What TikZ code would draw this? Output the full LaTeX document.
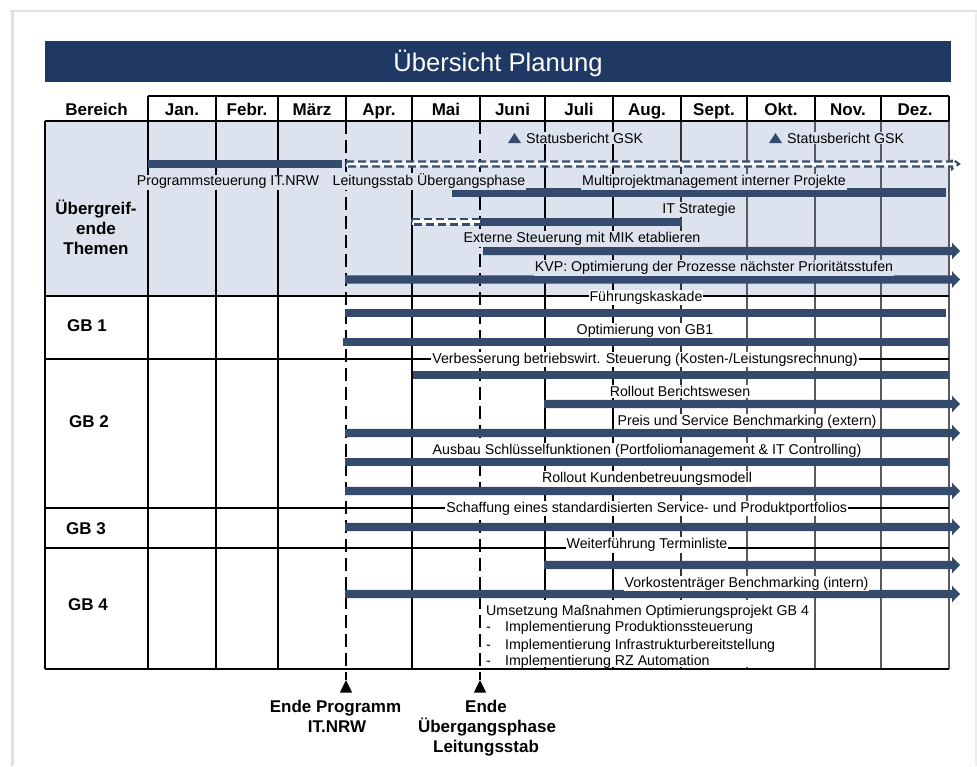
\documentclass[tikz,border=0pt]{standalone}
\usepackage{fontspec}
\setmainfont{Liberation Sans}
\definecolor{titleblue}{HTML}{1F3864}
\definecolor{barblue}{HTML}{344B6E}
\definecolor{bgblue}{HTML}{DDE3EE}
\definecolor{framegray}{HTML}{E1E1E1}
\definecolor{framelight}{HTML}{EEEEEE}
\definecolor{gridgray}{HTML}{5A5A5A}
\definecolor{griddark}{HTML}{333333}
% solid bar: start x, end x, centre y
\newcommand\solidbar[3]{\fill[barblue] (#1,{#3-4.2}) rectangle (#2,{#3+4.2});}
% bar that runs on past December: start x, centre y
\newcommand\arrowbar[2]{\fill[barblue] (#1,{#2-4.2}) -- (952,{#2-4.2}) -- (952,{#2-8.3}) -- (960,#2) -- (952,{#2+8.3}) -- (952,{#2+4.2}) -- (#1,{#2+4.2}) -- cycle;}
\begin{document}
\begin{tikzpicture}[x=1pt,y=-1pt,
  body/.style={font=\fontsize{14.2}{17}\selectfont, inner sep=1pt, anchor=base},
  onwhite/.style={body, fill=white},
  onblue/.style={body, fill=bgblue},
  headtxt/.style={font=\bfseries\fontsize{17}{20}\selectfont, inner sep=0pt, anchor=base},
  grid/.style={line width=1.3pt, draw=black},
  milestone/.style={line width=2.2pt, draw=black, dash pattern=on 13pt off 6pt},
  planned/.style={draw=barblue, fill=white, line width=2.1pt, dash pattern=on 8pt off 4pt}]
\useasboundingbox (0,0) rectangle (977,766);
\fill[white] (0,0) rectangle (977,766);

% page frame
\draw[framegray, line width=2.5pt] (10,11) -- (977,11);
\draw[framegray, line width=3pt] (12,11) -- (12,766);
\draw[framelight, line width=1.5pt] (976,12) -- (976,766);

% title bar
\node[fill=titleblue, inner sep=0, minimum width=906pt, minimum height=41pt, anchor=north west] (titlebar) at (45,41) {};
\node[font=\fontsize{25.6}{30}\selectfont, text=white, inner sep=0, anchor=base] (title) at (498,71) {Übersicht Planung};

% shaded block for the cross-cutting topics
\fill[bgblue] (45,121) rectangle (949,296);

% grid
\foreach \gx in {148,216,278,346,412,480,545,613,681,747,815,881,949}
  \draw[grid] (\gx,96) -- (\gx,121);
\foreach \gx in {148,216,278,412,545,613}
  \draw[grid] (\gx,121) -- (\gx,669);
\draw[grid, draw=griddark] (681,121) -- (681,669);
\foreach \gx in {747,815,881,949}
  \draw[grid, draw=gridgray] (\gx,121) -- (\gx,669);
\draw[grid] (148,96) -- (949,96);
\foreach \gy in {121,296,359,508,548,669}
  \draw[grid] (45,\gy) -- (949,\gy);
\draw[grid] (45,121) -- (45,669);

% milestone lines
\coordinate (progTop) at (346,121);
\coordinate (progTip) at (346,680);
\coordinate (phaseTop) at (480,121);
\coordinate (phaseTip) at (480,680);
\draw[milestone] (progTop) -- (progTip);
\draw[milestone] (phaseTop) -- (phaseTip);
\fill[black] (progTip) -- ++(6.2,12.7) -- ++(-12.4,0) -- cycle;
\fill[black] (phaseTip) -- ++(6.2,12.7) -- ++(-12.4,0) -- cycle;

% header row
\node[headtxt] (hBereich) at (96.5,115) {Bereich};
\foreach \cx/\lab/\id in {182/Jan./jan, 247/Febr./feb, 312/März/mar, 379/Apr./apr,
    446/Mai/mai, 512.5/Juni/jun, 579/Juli/jul, 647/Aug./aug, 714/Sept./sep,
    781/Okt./okt, 848/Nov./nov, 915/Dez./dez}
  \node[headtxt] (h\id) at (\cx,115) {\lab};

% row labels
\node[headtxt] (rowA1) at (96,214) {Übergreif-};
\node[headtxt] (rowA2) at (96,234) {ende};
\node[headtxt] (rowA3) at (96,254) {Themen};
\node[headtxt] (rowGB1) at (87,331) {GB 1};
\node[headtxt] (rowGB2) at (89,427) {GB 2};
\node[headtxt] (rowGB3) at (86,534.3) {GB 3};
\node[headtxt] (rowGB4) at (88,610) {GB 4};

% planned (outlined) bars
\draw[planned] (346,161.5) -- (952,161.5) -- (952,159) -- (959,164) -- (952,169) -- (952,166.5) -- (346,166.5) -- cycle;
\draw[planned] (412,219) -- (480,219) -- (480,224.5) -- (412,224.5) -- cycle;

% bars
\solidbar{148}{342}{164}
\solidbar{452}{946}{192.5}
\solidbar{480}{682}{222}
\arrowbar{483}{251}
\arrowbar{345}{279.5}
\solidbar{345}{946}{313}
\solidbar{343}{949}{342}
\solidbar{413}{949}{375}
\arrowbar{544}{404}
\arrowbar{345}{433}
\solidbar{345}{949}{462}
\arrowbar{345}{491}
\arrowbar{345}{527}
\arrowbar{544}{565}
\arrowbar{345}{594}

% status reports
\fill[barblue] (508,143) -- (521,143) -- (514.5,133) -- cycle;
\fill[barblue] (769,143) -- (782,143) -- (775.5,133) -- cycle;
\node[onblue, anchor=base west] (st1) at (525,143) {Statusbericht GSK};
\node[onblue, anchor=base west] (st2) at (786,143) {Statusbericht GSK};

% bar labels
\node[onblue] (t1) at (228,185.7) {Programmsteuerung IT.NRW};
\node[onblue] (t2) at (429,185.7) {Leitungsstab Übergangsphase};
\node[onblue] (t3) at (714,185.7) {Multiprojektmanagement interner Projekte};
\node[onblue] (t4) at (699,213.3) {IT Strategie};
\node[onblue] (t5) at (582,242.7) {Externe Steuerung mit MIK etablieren};
\node[onblue] (t6) at (714,271.7) {KVP: Optimierung der Prozesse nächster Prioritätsstufen};
\node[onwhite] (t7) at (646,301) {Führungskaskade};
\node[onwhite] (t8) at (645,334) {Optimierung von GB1};
\node[onwhite] (t9) at (645,363.3) {Verbesserung betriebswirt. Steuerung (Kosten-/Leistungsrechnung)};
\node[onwhite] (t10) at (680,396.7) {Rollout Berichtswesen};
\node[onwhite] (t11) at (747,425.3) {Preis und Service Benchmarking (extern)};
\node[onwhite] (t12) at (647,454) {Ausbau Schlüsselfunktionen (Portfoliomanagement \& IT Controlling)};
\node[onwhite] (t13) at (647,482.7) {Rollout Kundenbetreuungsmodell};
\node[onwhite] (t14) at (646.7,512.3) {Schaffung eines standardisierten Service- und Produktportfolios};
\node[onwhite] (t15) at (647,548.7) {Weiterführung Terminliste};
\node[onwhite] (t16) at (746.5,587.3) {Vorkostenträger Benchmarking (intern)};

% GB 4 measures
\node[fill=white, inner sep=0, minimum width=329pt, minimum height=67pt, anchor=north west] (gb4back) at (483,600) {};
\node[body, anchor=base west, inner sep=0] (m0) at (486,615) {Umsetzung Maßnahmen Optimierungsprojekt GB 4};
\node[body, anchor=base west, inner sep=0] (d1) at (486,631.7) {-};
\node[body, anchor=base west, inner sep=0] (m1) at (505,631.7) {Implementierung Produktionssteuerung};
\node[body, anchor=base west, inner sep=0] (d2) at (486,649) {-};
\node[body, anchor=base west, inner sep=0] (m2) at (505,649) {Implementierung Infrastrukturbereitstellung};
\node[body, anchor=base west, inner sep=0] (d3) at (486,665.7) {-};
\node[body, anchor=base west, inner sep=0] (m3) at (505,665.7) {Implementierung RZ Automation};

% milestone captions
\node[headtxt] (e1a) at (335.5,712.3) {Ende Programm};
\node[headtxt] (e1b) at (337,732.3) {IT.NRW};
\node[headtxt] (e2a) at (486,712.3) {Ende};
\node[headtxt] (e2b) at (487,732.3) {Übergangsphase};
\node[headtxt] (e2c) at (486,752.3) {Leitungsstab};
\end{tikzpicture}
\end{document}
